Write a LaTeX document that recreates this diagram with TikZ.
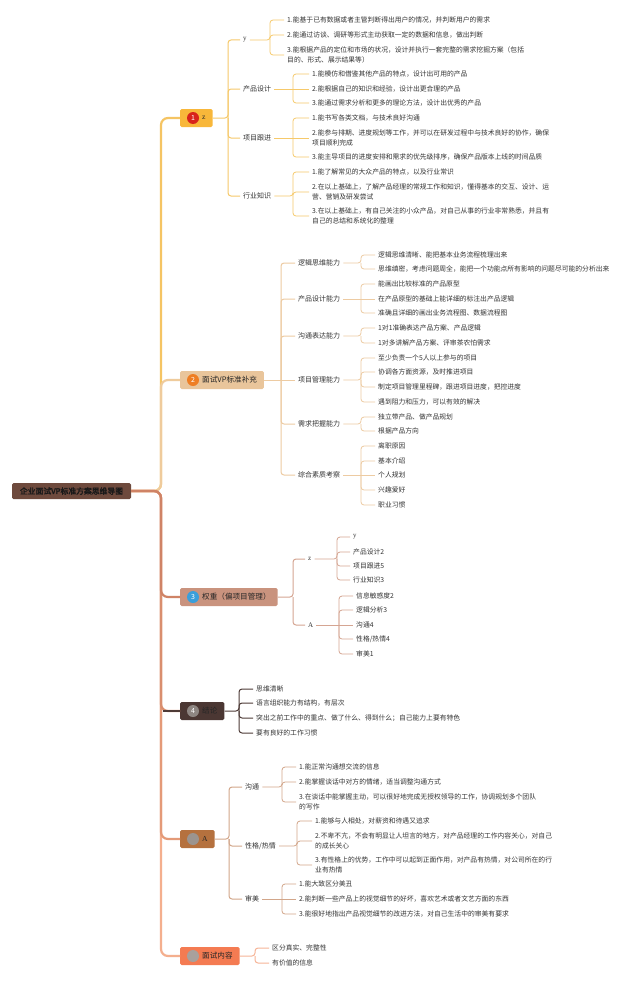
\documentclass[tikz,border=0pt]{standalone}
\usepackage{fontspec}
\setmainfont{Noto Sans CJK SC}[AutoFakeBold=2.5]
\newfontfamily\serifl{Liberation Serif}
\definecolor{txt}{HTML}{333333}
\definecolor{bAline}{HTML}{F6C96A}
\definecolor{bAfill}{HTML}{F8B73A}
\definecolor{bAbadge}{HTML}{D8231B}
\definecolor{bBline}{HTML}{EDCBA2}
\definecolor{bBfill}{HTML}{E9C59B}
\definecolor{bBbadge}{HTML}{EE7E24}
\definecolor{bCline}{HTML}{D5A592}
\definecolor{bCfill}{HTML}{C9937E}
\definecolor{bCbadge}{HTML}{3A9FDB}
\definecolor{bDline}{HTML}{4E3B37}
\definecolor{bDfill}{HTML}{4B3733}
\definecolor{bDbadge}{HTML}{8E8682}
\definecolor{bEline}{HTML}{D2A68A}
\definecolor{bEfill}{HTML}{B5713E}
\definecolor{bEbadge}{HTML}{9C948E}
\definecolor{bFline}{HTML}{F6B497}
\definecolor{bFfill}{HTML}{F47B52}
\definecolor{bFbadge}{HTML}{A8A09C}
\definecolor{rootfill}{HTML}{6E4A3D}
\definecolor{spA}{HTML}{F5C463}
\definecolor{spB}{HTML}{EFCB9C}
\definecolor{spC}{HTML}{CF8366}
\definecolor{spD}{HTML}{D98E6E}
\definecolor{spE}{HTML}{E49A78}
\definecolor{spF}{HTML}{F4AF8E}
\tikzset{
  leaf/.style={anchor=west, inner xsep=3pt, inner ysep=1pt, font=\fontsize{6.8}{9.6}\selectfont, text=txt, align=left},
  sublbl/.style={anchor=west, inner xsep=3pt, inner ysep=1pt, font=\fontsize{7}{9}\selectfont, text=txt},
  mainbox/.style={anchor=west, rounded corners=1.5pt, minimum height=18pt, inner xsep=7pt, inner ysep=0pt, font=\fontsize{7.6}{9}\selectfont, text=black!85},
  rootbox/.style={rounded corners=1.5pt, minimum height=16pt, minimum width=119pt, inner xsep=4pt, inner ysep=0pt, font=\fontsize{7.8}{9}\selectfont\bfseries, text=black!90, fill=rootfill},
  badge/.style={circle, inner sep=0pt, minimum size=12pt, font=\fontsize{7}{7}\selectfont, text=white},
  spine/.style={line width=2.2pt, rounded corners=7pt},
  conn/.style={line width=1pt, rounded corners=3pt},
  lconn/.style={line width=0.8pt, rounded corners=3pt},
}
\begin{document}
\begin{tikzpicture}[x=1pt,y=-1pt]
\fill[white] (0,0) rectangle (640,982);
\useasboundingbox (0,0) rectangle (640,982);

% root and main nodes
\node[rootbox] (root) at (71.5,491) {企业面试VP标准方案思维导图};
\node[mainbox, fill=bAfill] (m1) at (180,118) {\hspace*{15pt}{\serifl z}};
\node[mainbox, fill=bBfill] (m2) at (180,380) {\hspace*{15pt}面试VP标准补充};
\node[mainbox, fill=bCfill] (m3) at (180,597) {\hspace*{15pt}权重（偏项目管理）};
\node[mainbox, fill=bDfill] (m4) at (180,711) {\hspace*{15pt}结论};
\node[mainbox, fill=bEfill] (m5) at (180,839) {\hspace*{15pt}{\serifl A}};
\node[mainbox, fill=bFfill] (m6) at (180,956) {\hspace*{15pt}面试内容};
\node[badge, fill=bAbadge] (k1) at ([xshift=13pt]m1.west) {1};
\node[badge, fill=bBbadge] (k2) at ([xshift=13pt]m2.west) {2};
\node[badge, fill=bCbadge] (k3) at ([xshift=13pt]m3.west) {3};
\node[badge, fill=bDbadge] (k4) at ([xshift=13pt]m4.west) {4};
\node[badge, fill=bEbadge] (k5) at ([xshift=13pt]m5.west) {};
\node[badge, fill=bFbadge] (k6) at ([xshift=13pt]m6.west) {};

% spines
\coordinate (sp) at (161,491);
\draw[spine, spA] (root.east) -- (sp) |- (m1.west);
\draw[spine, spB] (root.east) -- (sp) |- (m2.west);
\draw[spine, spF] (root.east) -- (sp) |- (m6.west);
\draw[spine, spE] (root.east) -- (sp) |- (m5.west);
\draw[spine, spD] (root.east) -- (sp) |- (m4.west);
\draw[spine, spC] (root.east) -- (sp) |- (m3.west);
\draw[line width=2.2pt, bDline] (163,711) -- (m4.west);

% ================= branch 1
\node[sublbl] (s11) at (240,40) {\serifl y};
\node[sublbl] (s12) at (240,89) {产品设计};
\node[sublbl] (s13) at (240,138) {项目跟进};
\node[sublbl] (s14) at (240,196) {行业知识};
\coordinate (j1) at (228,118);
\draw[conn, bAline] (m1.east) -- (j1) |- (s11.west);
\draw[conn, bAline] (j1) |- (s12.west);
\draw[conn, bAline] (j1) |- (s13.west);
\draw[conn, bAline] (j1) |- (s14.west);

\node[leaf] (l111) at (284,20) {1.能基于已有数据或者主管判断得出用户的情况，并判断用户的需求};
\node[leaf] (l112) at (284,35) {2.能通过访谈、调研等形式主动获取一定的数据和信息，做出判断};
\node[leaf] (l113) at (284,55) {3.能根据产品的定位和市场的状况，设计并执行一套完整的需求挖掘方案（包括\\目的、形式、展示结果等）};
\coordinate (j11) at (270,40);
\draw[lconn, bAline] (s11.east) -- (j11) |- (l111.west);
\draw[lconn, bAline] (j11) |- (l112.west);
\draw[lconn, bAline] (j11) |- (l113.west);

\node[leaf] (l121) at (309,74) {1.能模仿和借鉴其他产品的特点，设计出可用的产品};
\node[leaf] (l122) at (309,89) {2.能根据自己的知识和经验，设计出更合理的产品};
\node[leaf] (l123) at (309,103) {3.能通过需求分析和更多的理论方法，设计出优秀的产品};
\coordinate (j12) at (293,89);
\draw[lconn, bAline] (s12.east) -- (l122.west);
\draw[lconn, bAline] (j12) |- (l121.west);
\draw[lconn, bAline] (j12) |- (l123.west);

\node[leaf] (l131) at (309,118) {1.能书写各类文档，与技术良好沟通};
\node[leaf] (l132) at (309,138) {2.能参与排期、进度规划等工作，并可以在研发过程中与技术良好的协作，确保\\项目顺利完成};
\node[leaf] (l133) at (309,157) {3.能主导项目的进度安排和需求的优先级排序，确保产品版本上线的时间品质};
\coordinate (j13) at (293,138);
\draw[lconn, bAline] (s13.east) -- (l132.west);
\draw[lconn, bAline] (j13) |- (l131.west);
\draw[lconn, bAline] (j13) |- (l133.west);

\node[leaf] (l141) at (309,172) {1.能了解常见的大众产品的特点，以及行业常识};
\node[leaf] (l142) at (309,192) {2.在以上基础上，了解产品经理的常规工作和知识，懂得基本的交互、设计、运\\营、营销及研发尝试};
\node[leaf] (l143) at (309,216) {3.在以上基础上，有自己关注的小众产品，对自己从事的行业非常熟悉，并且有\\自己的总结和系统化的整理};
\coordinate (j14) at (293,196);
\draw[lconn, bAline] (s14.east) -- (j14) |- (l141.west);
\draw[lconn, bAline] (j14) |- (l142.west);
\draw[lconn, bAline] (j14) |- (l143.west);

% ================= branch 2
\node[sublbl] (s21) at (295,263) {逻辑思维能力};
\node[sublbl] (s22) at (295,299) {产品设计能力};
\node[sublbl] (s23) at (295,336) {沟通表达能力};
\node[sublbl] (s24) at (295,380) {项目管理能力};
\node[sublbl] (s25) at (295,424) {需求把握能力};
\node[sublbl] (s26) at (295,475) {综合素质考察};
\coordinate (j2) at (281,380);
\draw[conn, bBline] (m2.east) -- (s24.west);
\draw[conn, bBline] (j2) |- (s21.west);
\draw[conn, bBline] (j2) |- (s22.west);
\draw[conn, bBline] (j2) |- (s23.west);
\draw[conn, bBline] (j2) |- (s25.west);
\draw[conn, bBline] (j2) |- (s26.west);

\node[leaf] (l211) at (375,255) {逻辑思维清晰、能把基本业务流程梳理出来};
\node[leaf] (l212) at (375,269) {思维缜密，考虑问题周全，能把一个功能点所有影响的问题尽可能的分析出来};
\coordinate (j21) at (361,263);
\draw[lconn, bBline] (s21.east) -- (j21) |- (l211.west);
\draw[lconn, bBline] (j21) |- (l212.west);

\node[leaf] (l221) at (375,284) {能画出比较标准的产品原型};
\node[leaf] (l222) at (375,299) {在产品原型的基础上能详细的标注出产品逻辑};
\node[leaf] (l223) at (375,313) {准确且详细的画出业务流程图、数据流程图};
\coordinate (j22) at (361,299);
\draw[lconn, bBline] (s22.east) -- (l222.west);
\draw[lconn, bBline] (j22) |- (l221.west);
\draw[lconn, bBline] (j22) |- (l223.west);

\node[leaf] (l231) at (375,328) {1对1准确表达产品方案、产品逻辑};
\node[leaf] (l232) at (375,343) {1对多讲解产品方案、评审茶农怕需求};
\coordinate (j23) at (361,336);
\draw[lconn, bBline] (s23.east) -- (j23) |- (l231.west);
\draw[lconn, bBline] (j23) |- (l232.west);

\node[leaf] (l241) at (375,358) {至少负责一个5人以上参与的项目};
\node[leaf] (l242) at (375,372) {协调各方面资源，及时推进项目};
\node[leaf] (l243) at (375,387) {制定项目管理里程碑，跟进项目进度，把控进度};
\node[leaf] (l244) at (375,402) {遇到阻力和压力，可以有效的解决};
\coordinate (j24) at (361,380);
\draw[lconn, bBline] (s24.east) -- (j24) |- (l241.west);
\draw[lconn, bBline] (j24) |- (l242.west);
\draw[lconn, bBline] (j24) |- (l243.west);
\draw[lconn, bBline] (j24) |- (l244.west);

\node[leaf] (l251) at (375,417) {独立带产品、做产品规划};
\node[leaf] (l252) at (375,431) {根据产品方向};
\coordinate (j25) at (361,424);
\draw[lconn, bBline] (s25.east) -- (j25) |- (l251.west);
\draw[lconn, bBline] (j25) |- (l252.west);

\node[leaf] (l261) at (375,446) {离职原因};
\node[leaf] (l262) at (375,461) {基本介绍};
\node[leaf] (l263) at (375,475) {个人规划};
\node[leaf] (l264) at (375,490) {兴趣爱好};
\node[leaf] (l265) at (375,505) {职业习惯};
\coordinate (j26) at (361,475);
\draw[lconn, bBline] (s26.east) -- (l263.west);
\draw[lconn, bBline] (j26) |- (l261.west);
\draw[lconn, bBline] (j26) |- (l262.west);
\draw[lconn, bBline] (j26) |- (l264.west);
\draw[lconn, bBline] (j26) |- (l265.west);

% ================= branch 3
\node[sublbl] (s31) at (305,559) {\serifl z};
\node[sublbl] (s32) at (305,625) {\serifl A};
\coordinate (j3) at (293,597);
\draw[conn, bCline] (m3.east) -- (j3) |- (s31.west);
\draw[conn, bCline] (j3) |- (s32.west);

\node[leaf] (l311) at (350,537) {\serifl y};
\node[leaf] (l312) at (350,552) {产品设计2};
\node[leaf] (l313) at (350,566) {项目跟进5};
\node[leaf] (l314) at (350,580) {行业知识3};
\coordinate (j31) at (337,559);
\draw[lconn, bCline] (s31.east) -- (j31) |- (l311.west);
\draw[lconn, bCline] (j31) |- (l312.west);
\draw[lconn, bCline] (j31) |- (l313.west);
\draw[lconn, bCline] (j31) |- (l314.west);

\node[leaf] (l321) at (353,596) {信息敏感度2};
\node[leaf] (l322) at (353,610) {逻辑分析3};
\node[leaf] (l323) at (353,625) {沟通4};
\node[leaf] (l324) at (353,639) {性格/热情4};
\node[leaf] (l325) at (353,654) {审美1};
\coordinate (j32) at (339,625);
\draw[lconn, bCline] (s32.east) -- (l323.west);
\draw[lconn, bCline] (j32) |- (l321.west);
\draw[lconn, bCline] (j32) |- (l322.west);
\draw[lconn, bCline] (j32) |- (l324.west);
\draw[lconn, bCline] (j32) |- (l325.west);

% ================= branch 4
\node[leaf] (l41) at (253,689) {思维清晰};
\node[leaf] (l42) at (253,703) {语言组织能力有结构，有层次};
\node[leaf] (l43) at (253,718) {突出之前工作中的重点、做了什么、得到什么；自己能力上要有特色};
\node[leaf] (l44) at (253,733) {要有良好的工作习惯};
\coordinate (j4) at (239,711);
\draw[conn, bDline] (m4.east) -- (j4) |- (l41.west);
\draw[conn, bDline] (j4) |- (l42.west);
\draw[conn, bDline] (j4) |- (l43.west);
\draw[conn, bDline] (j4) |- (l44.west);

% ================= branch A
\node[sublbl] (s51) at (242,787) {沟通};
\node[sublbl] (s52) at (242,846) {性格/热情};
\node[sublbl] (s53) at (242,899) {审美};
\coordinate (j5) at (229,839);
\draw[conn, bEline] (m5.east) -- (j5) |- (s51.west);
\draw[conn, bEline] (j5) |- (s52.west);
\draw[conn, bEline] (j5) |- (s53.west);

\node[leaf] (l511) at (296,767) {1.能正常沟通想交流的信息};
\node[leaf] (l512) at (296,782) {2.能掌握谈话中对方的情绪，适当调整沟通方式};
\node[leaf] (l513) at (296,802) {3.在谈话中能掌握主动，可以很好地完成无授权领导的工作，协调规划多个团队\\的写作};
\coordinate (j51) at (282,787);
\draw[lconn, bEline] (s51.east) -- (j51) |- (l511.west);
\draw[lconn, bEline] (j51) |- (l512.west);
\draw[lconn, bEline] (j51) |- (l513.west);

\node[leaf] (l521) at (312,821) {1.能够与人相处，对薪资和待遇又追求};
\node[leaf] (l522) at (312,841) {2.不卑不亢，不会有明显让人坦言的地方，对产品经理的工作内容关心，对自己\\的成长关心};
\node[leaf] (l523) at (312,865) {3.有性格上的优势，工作中可以起到正面作用，对产品有热情，对公司所在的行\\业有热情};
\coordinate (j52) at (297,846);
\draw[lconn, bEline] (s52.east) -- (j52) |- (l521.west);
\draw[lconn, bEline] (j52) |- (l522.west);
\draw[lconn, bEline] (j52) |- (l523.west);

\node[leaf] (l531) at (296,884) {1.能大致区分美丑};
\node[leaf] (l532) at (296,899) {2.能判断一些产品上的视觉细节的好坏，喜欢艺术或者文艺方面的东西};
\node[leaf] (l533) at (296,914) {3.能很好地指出产品视觉细节的改进方法，对自己生活中的审美有要求};
\coordinate (j53) at (282,899);
\draw[lconn, bEline] (s53.east) -- (l532.west);
\draw[lconn, bEline] (j53) |- (l531.west);
\draw[lconn, bEline] (j53) |- (l533.west);

% ================= branch 5
\node[leaf] (l61) at (269,948) {区分真实、完整性};
\node[leaf] (l62) at (269,963) {有价值的信息};
\coordinate (j6) at (255,956);
\draw[conn, bFline] (m6.east) -- (j6) |- (l61.west);
\draw[conn, bFline] (j6) |- (l62.west);
\end{tikzpicture}
\end{document}
